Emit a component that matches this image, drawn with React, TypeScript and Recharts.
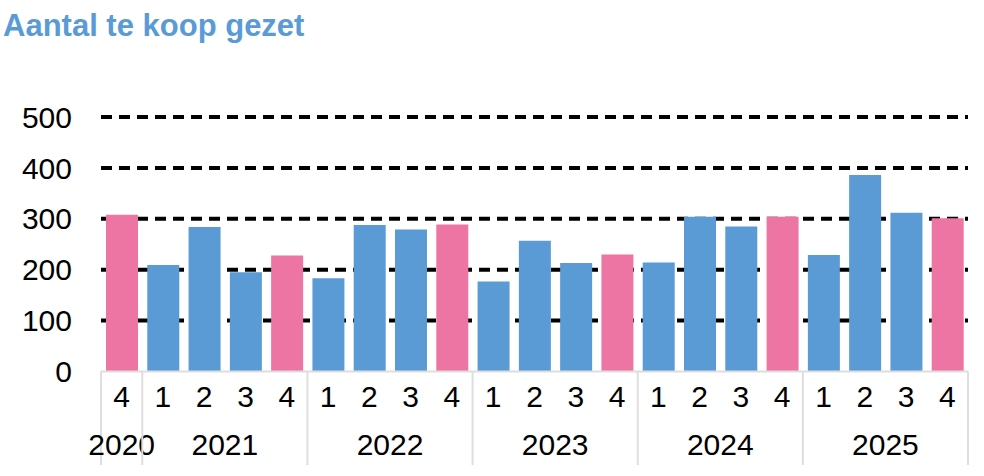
import React from 'react';
import { BarChart, Bar, XAxis, YAxis, CartesianGrid, Cell } from 'recharts';

const quarters = ['4', '1', '2', '3', '4', '1', '2', '3', '4', '1', '2', '3', '4', '1', '2', '3', '4', '1', '2', '3', '4'];
const years = ['2020', '2021', '2021', '2021', '2021', '2022', '2022', '2022', '2022', '2023', '2023', '2023', '2023', '2024', '2024', '2024', '2024', '2025', '2025', '2025', '2025'];
const values = [308, 209, 284, 195, 228, 183, 288, 279, 289, 177, 257, 213, 230, 214, 304, 285, 304, 229, 386, 312, 301];
const yTicks = [0, 100, 200, 300, 400, 500];
const gridValues = [100, 200, 300, 400, 500];

const BLUE = '#5B9BD5';
const PINK = '#EC75A3';
const FONT = "'Liberation Sans', Arial, sans-serif";

const data = quarters.map((q, i) => ({ key: `${years[i]}-${q}`, q, year: years[i], value: values[i] }));

const AxisTick = (props: any) => {
  const { x, y, payload, index, width, visibleTicksCount } = props;
  const i = typeof index === 'number' ? index : payload.index;
  const band = payload && payload.offset ? payload.offset * 2 : width / visibleTicksCount;
  const d = data[i];
  const lineColor = '#DEDEDE';
  const lineLen = 93.5;
  const isFirst = i === 0 || data[i - 1].year !== d.year;
  const isLast = i === data.length - 1;
  let groupSize = 0;
  if (isFirst) {
    for (let j = i; j < data.length && data[j].year === d.year; j++) groupSize++;
  }
  const left = x - band / 2;
  return (
    <g>
      {isFirst && <line x1={left} x2={left} y1={y} y2={y + lineLen} stroke={lineColor} strokeWidth={2} />}
      {isLast && (
        <line x1={x + band / 2} x2={x + band / 2} y1={y} y2={y + lineLen} stroke={lineColor} strokeWidth={2} />
      )}
      <text x={x} y={y + 35} textAnchor="middle" fontFamily={FONT} fontSize={30} fill="#000">
        {d.q}
      </text>
      {isFirst && (
        <text x={left + (groupSize * band) / 2} y={y + 83.5} textAnchor="middle" fontFamily={FONT} fontSize={30} fill="#000">
          {d.year}
        </text>
      )}
    </g>
  );
};

export default function App() {
  return (
    <div style={{ position: 'absolute', left: 0, top: 0, width: 984, height: 476, background: '#fff' }}>
      <svg width={984} height={60} style={{ position: 'absolute', left: 0, top: 0 }}>
        <text x={3} y={36} fontFamily={FONT} fontWeight="bold" fontSize={31} fill={BLUE}>
          Aantal te koop gezet
        </text>
      </svg>
      <div style={{ position: 'absolute', left: 0, top: 0 }}>
        <BarChart width={984} height={476} data={data} margin={{ top: 117, right: 16, bottom: 4.5, left: 21 }}>
          <CartesianGrid
            vertical={false}
            horizontalValues={gridValues}
            stroke="#000"
            strokeWidth={4}
            strokeDasharray="11 7"
          />
          <YAxis
            domain={[0, 500]}
            ticks={yTicks}
            width={80}
            axisLine={false}
            tickLine={false}
            tickSize={0}
            tickMargin={29}
            interval={0}
            tick={{ fontFamily: FONT, fontSize: 30, fill: '#000' }}
          />
          <Bar dataKey="value" barSize={32} isAnimationActive={false}>
            {data.map((d, i) => (
              <Cell key={i} fill={d.q === '4' ? PINK : BLUE} />
            ))}
          </Bar>
          <XAxis
            dataKey="key"
            height={100}
            interval={0}
            tickLine={false}
            tickSize={0}
            tickMargin={0}
            axisLine={{ stroke: '#DEDEDE', strokeWidth: 2 }}
            tick={<AxisTick />}
          />
        </BarChart>
      </div>
    </div>
  );
}
